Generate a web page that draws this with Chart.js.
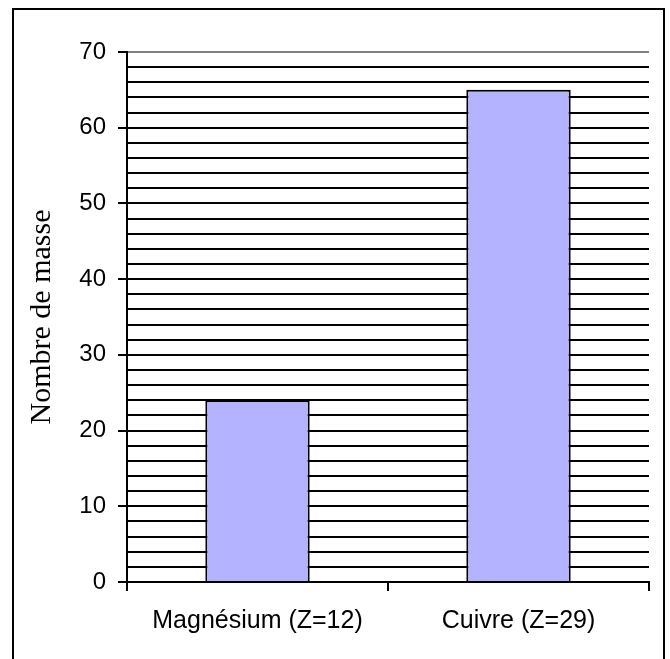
<!DOCTYPE html>
<html>
<head>
<meta charset="utf-8">
<script src="https://cdn.jsdelivr.net/npm/chart.js@4/dist/chart.umd.min.js"></script>
<style>
  html, body { margin: 0; padding: 0; background: #fff; }
  #wrap { width: 670px; height: 659px; position: relative; }
</style>
</head>
<body>
<div id="wrap"><canvas id="c" width="670" height="659"></canvas></div>
<script>
const categories = ["Magnésium (Z=12)", "Cuivre (Z=29)"];
const massNumbers = [24, 65];
const yAxisTitle = "Nombre de masse";
const yMin = 0, yMax = 70, yStep = 2, yLabelStep = 10;

const frame = {
  id: 'frame',
  beforeDraw(chart) {
    const ctx = chart.ctx;
    ctx.save();
    ctx.fillStyle = '#fff';
    ctx.fillRect(0, 0, chart.width, chart.height);
    ctx.strokeStyle = '#000';
    ctx.lineWidth = 2;
    ctx.strokeRect(13, 9, 651, 670);
    ctx.restore();
  }
};

new Chart(document.getElementById('c'), {
  type: 'bar',
  data: {
    labels: categories,
    datasets: [{
      data: massNumbers,
      backgroundColor: '#B3B3FF',
      borderColor: '#000',
      borderWidth: 2,
      categoryPercentage: 1,
      barPercentage: 0.4
    }]
  },
  options: {
    responsive: false,
    animation: false,
    devicePixelRatio: 1,
    layout: { padding: { left: 0, right: 21, top: 52, bottom: 0 } },
    plugins: { legend: { display: false }, tooltip: { enabled: false } },
    scales: {
      x: {
        afterFit(s) { s.height = 77; },
        border: { color: '#000', width: 2 },
        grid: {
          offset: true,
          color: c => (c.index === categories.length ? '#808080' : 'transparent'),
          tickColor: '#000',
          tickLength: 9,
          lineWidth: 2
        },
        ticks: {
          color: '#000',
          padding: 15,
          font: { family: '"Liberation Sans", Arial, sans-serif', size: 25 }
        }
      },
      y: {
        min: yMin, max: yMax,
        afterFit(s) { s.width = 127; },
        border: { color: '#000', width: 2 },
        grid: {
          color: c => (c.tick && c.tick.value === yMax ? '#808080' : '#000'),
          tickColor: c => (c.tick && c.tick.value % yLabelStep === 0 ? '#000' : 'transparent'),
          tickLength: 9,
          lineWidth: 2
        },
        ticks: {
          stepSize: yStep,
          autoSkip: false,
          color: '#000',
          padding: 12,
          font: { family: '"Liberation Sans", Arial, sans-serif', size: 24 },
          callback: v => (v % yLabelStep === 0 ? String(v) : '')
        },
        title: {
          display: true,
          text: yAxisTitle,
          color: '#000',
          padding: { top: 24, bottom: 0 },
          font: { family: '"Liberation Serif", "Times New Roman", serif', size: 30, weight: 'normal' }
        }
      }
    }
  },
  plugins: [frame]
});
</script>
</body>
</html>
